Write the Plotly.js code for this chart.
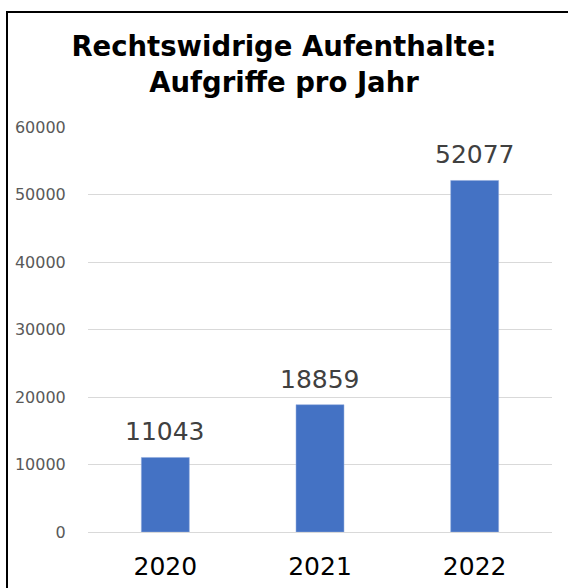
<!DOCTYPE html>
<html>
<head>
<meta charset="utf-8">
<script src="https://cdn.plot.ly/plotly-3.0.1.min.js"></script>
<style>
  body { margin: 0; background: #fff; }
  #chart { width: 568px; height: 588px; position: absolute; left: 0; top: 0; }
  #frame { position: absolute; left: 6px; top: 11px; width: 580px; height: 600px;
           border: 2px solid #000; pointer-events: none; }
</style>
</head>
<body>
<div id="chart"></div>
<div id="frame"></div>
<script>
// --- Data ---
const years = ['2020', '2021', '2022'];
const counts = [11043, 18859, 52077];
const yTicks = [0, 10000, 20000, 30000, 40000, 50000, 60000];

const trace = {
    type: 'bar',
    x: years,
    y: counts,
    width: 0.31,
    marker: { color: '#4472C4', line: { color: '#8fa9dc', width: 0.5 } },
    hoverinfo: 'x+y'
};

// value labels above bars
const labels = years.map((yr, i) => ({
    x: i, y: counts[i], text: String(counts[i]),
    xref: 'x', yref: 'y',
    showarrow: false, yanchor: 'bottom', yshift: 9,
    font: { family: 'DejaVu Sans', size: 25, color: '#404040' }
}));

const layout = {
    width: 568, height: 588,
    margin: { l: 88, r: 16, t: 127, b: 56 },
    paper_bgcolor: '#fff', plot_bgcolor: '#fff',
    title: {
        text: 'Rechtswidrige Aufenthalte:<br>Aufgriffe pro Jahr',
        font: { family: 'DejaVu Sans', size: 27.5, color: '#000', weight: 'bold' },
        xref: 'container', x: 0.5, yref: 'container', y: 1 - 56 / 588, yanchor: 'top'
    },
    showlegend: false,
    xaxis: {
        type: 'category',
        range: [-0.5, 2.5],
        showgrid: false, showline: false, zeroline: false,
        ticks: 'outside', ticklen: 12, tickcolor: 'rgba(0,0,0,0)',
        tickfont: { family: 'DejaVu Sans', size: 25, color: '#000' }
    },
    yaxis: {
        range: [0, 60000],
        tickvals: yTicks,
        ticktext: yTicks.map(String),
        showgrid: true, gridcolor: '#d9d9d9', gridwidth: 1,
        zeroline: true, zerolinecolor: '#d9d9d9', zerolinewidth: 1,
        showline: false, ticks: 'outside', ticklen: 18, tickcolor: 'rgba(0,0,0,0)',
        tickfont: { family: 'DejaVu Sans', size: 16, color: '#595959' }
    },
    annotations: labels
};

Plotly.newPlot('chart', [trace], layout, { displayModeBar: false, staticPlot: true });
</script>
</body>
</html>
